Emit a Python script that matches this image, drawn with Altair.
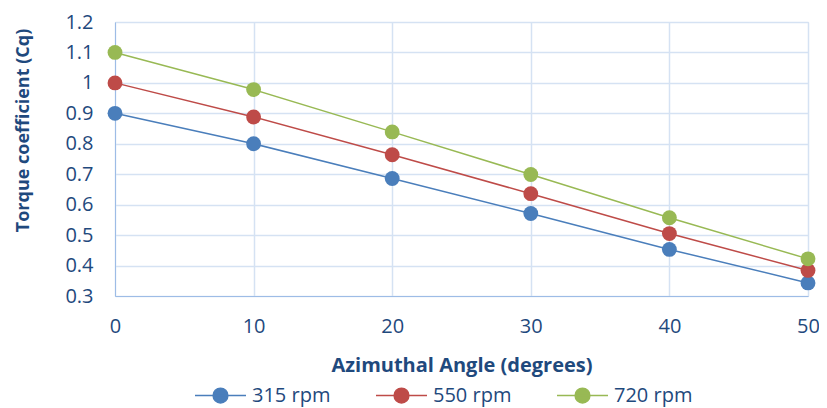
import altair as alt
import pandas as pd

angles = [0, 10, 20, 30, 40, 50]
cq_315 = [0.90, 0.80, 0.686, 0.571, 0.453, 0.343]
cq_550 = [1.00, 0.888, 0.764, 0.636, 0.505, 0.384]
cq_720 = [1.10, 0.978, 0.839, 0.699, 0.557, 0.422]
series = ["315 rpm", "550 rpm", "720 rpm"]
colors = ["#4A7EBB", "#BE4B48", "#98B954"]
y_ticks = [0.3, 0.4, 0.5, 0.6, 0.7, 0.8, 0.9, 1.0, 1.1, 1.2]

rows = []
for name, vals in zip(series, [cq_315, cq_550, cq_720]):
    for a, v in zip(angles, vals):
        rows.append({"angle": a, "cq": v, "series": name})
df = pd.DataFrame(rows)

TXT = "#1F497D"
FONT = "Open Sans"
legend_path = "M-1,0L1,0M0.29,0A0.29,0.29,0,1,1,-0.29,0A0.29,0.29,0,1,1,0.29,0Z"

color = alt.Color(
    "series:N",
    scale=alt.Scale(domain=series, range=colors),
    legend=alt.Legend(
        title=None,
        orient="none",
        direction="horizontal",
        legendX=79,
        legendY=347,
        symbolType=legend_path,
        symbolSize=2600,
        symbolStrokeWidth=1.5,
        labelFontSize=20,
        labelFont=FONT,
        labelColor=TXT,
        labelOffset=5,
        columnPadding=42,
    ),
)

x = alt.X(
    "angle:Q",
    scale=alt.Scale(domain=[0, 50], nice=False),
    axis=alt.Axis(
        values=angles,
        title="Azimuthal Angle (degrees)",
        titleFontSize=20,
        titleFont=FONT,
        titleFontWeight="bold",
        titleColor=TXT,
        titlePadding=19,
        labelFontSize=20,
        labelFont=FONT,
        labelColor=TXT,
        labelPadding=20,
        labelFlush=False,
        ticks=False,
        domainColor="#9DBCE6",
        gridColor="#D5E2F3",
        gridWidth=1.5,
    ),
)
y = alt.Y(
    "cq:Q",
    scale=alt.Scale(domain=[0.3, 1.2], nice=False, zero=False),
    axis=alt.Axis(
        values=y_ticks,
        labelExpr="datum.value == 1 ? '1' : format(datum.value, '.1f')",
        title="Torque coefficient (Cq)",
        titleFontSize=18,
        titleFont=FONT,
        titleFontWeight="bold",
        titleColor=TXT,
        titleBaseline="middle",
        titleX=-92,
        titleY=108,
        labelFontSize=20,
        labelFont=FONT,
        labelColor=TXT,
        labelPadding=22,
        labelFlush=False,
        ticks=False,
        domainColor="#9DBCE6",
        gridColor="#D5E2F3",
        gridWidth=1.5,
    ),
)

lines = alt.Chart(df).mark_line(strokeWidth=1.5).encode(x=x, y=y, color=color)
points = alt.Chart(df).mark_circle(size=220, opacity=1).encode(
    x=x, y=y, color=alt.Color("series:N", scale=alt.Scale(domain=series, range=colors), legend=None)
)

chart = (
    alt.layer(lines, points)
    .properties(
        width=693,
        height=274,
        autosize=alt.AutoSizeParams(type="none"),
        padding={"left": 107, "top": 14, "right": 11, "bottom": 112},
    )
    .configure_view(stroke="#D5E2F3", strokeWidth=1.5)
    .configure(background="white")
)

chart.save("out.html", embed_options={"renderer": "svg", "actions": False})
